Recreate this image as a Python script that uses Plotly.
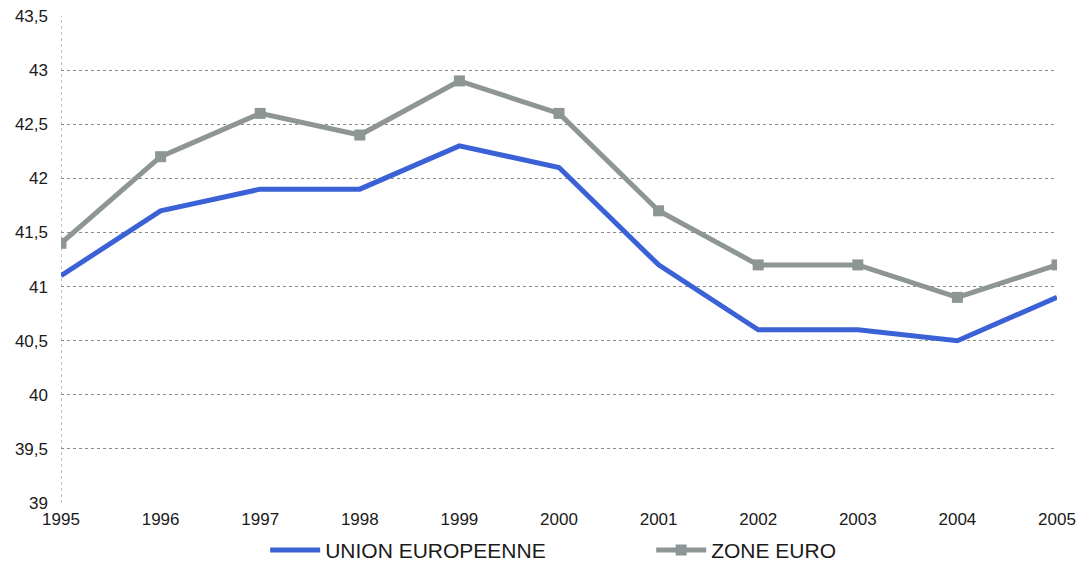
import plotly.graph_objects as go

years = [1995, 1996, 1997, 1998, 1999, 2000, 2001, 2002, 2003, 2004, 2005]
union_europeenne = [41.1, 41.7, 41.9, 41.9, 42.3, 42.1, 41.2, 40.6, 40.6, 40.5, 40.9]
zone_euro = [41.4, 42.2, 42.6, 42.4, 42.9, 42.6, 41.7, 41.2, 41.2, 40.9, 41.2]
y_ticks = [39, 39.5, 40, 40.5, 41, 41.5, 42, 42.5, 43, 43.5]

fig = go.Figure()
fig.add_trace(go.Scatter(
    x=years, y=union_europeenne, name="UNION EUROPEENNE", mode="lines",
    line=dict(color="#3a62d6", width=5)))
fig.add_trace(go.Scatter(
    x=years, y=zone_euro, name="ZONE EURO", mode="lines+markers",
    line=dict(color="#8d9595", width=5),
    marker=dict(symbol="square", size=11, color="#8d9595")))

fig.update_layout(
    width=1082, height=564,
    margin=dict(l=61, r=25, t=16, b=61, autoexpand=False),
    paper_bgcolor="white", plot_bgcolor="white",
    separators=", ",
    font=dict(family="Liberation Sans, Arial, sans-serif", color="#1a1a1a", size=17),
    showlegend=True,
    legend=dict(orientation="h", x=0.205, xanchor="left", y=-0.055, yanchor="top",
                font=dict(size=21), entrywidth=321, itemwidth=50,
                bgcolor="rgba(0,0,0,0)"),
    xaxis=dict(range=[1995, 2005], tickvals=years, ticktext=[str(y) for y in years],
               showgrid=False, zeroline=False, showline=False, ticks="",
               ticklabelstandoff=4, automargin=False),
    yaxis=dict(range=[39, 43.5], tickvals=y_ticks, showgrid=True,
               gridcolor="#8a8a8a", griddash="dot", gridwidth=1,
               zeroline=False, showline=False, ticks="", ticklabelstandoff=12,
               automargin=False),
)
fig.add_shape(type="line", xref="x", yref="paper", x0=1995, x1=1995, y0=0, y1=1,
              line=dict(color="#8a8a8a", width=1, dash="dot"), layer="below")
fig.write_html("out.html", config={"displayModeBar": False},
               post_script="document.body.style.margin='0';document.body.style.padding='0';")
